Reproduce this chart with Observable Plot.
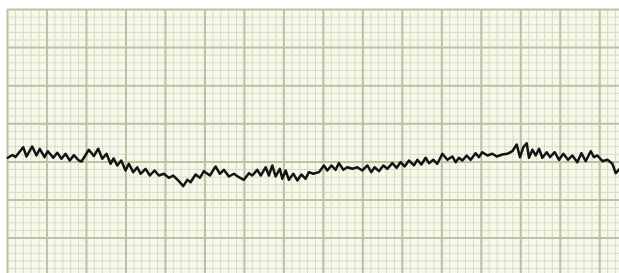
<!DOCTYPE html>
<html>
<head>
<meta charset="utf-8">
<script src="https://cdn.jsdelivr.net/npm/d3@7"></script>
<script src="https://cdn.jsdelivr.net/npm/@observablehq/plot@0.6"></script>
<style>
  html, body { margin: 0; padding: 0; background: #ffffff; }
  svg { display: block; }
</style>
</head>
<body>
<div id="chart"></div>
<script>
// Time along the strip, in small (1 mm) boxes
const timeMm = [0.04,0.63,1.01,1.99,2.41,3.13,3.67,4.09,4.69,5.11,5.79,6.30,6.84,7.35,7.89,8.40,9.03,9.37,10.30,10.93,
  11.49,12.00,12.54,13.05,13.43,13.90,14.40,14.95,15.37,15.92,16.43,16.85,17.48,18.03,18.62,19.17,19.80,20.43,20.99,21.70,
  22.26,22.76,23.18,23.82,24.36,24.87,25.63,26.35,26.89,27.40,28.03,28.67,29.30,29.93,30.57,31.00,31.63,32.07,32.70,33.10,
  33.53,33.95,34.49,34.80,35.22,35.63,36.19,36.70,37.21,37.75,38.17,38.73,39.44,40.07,40.50,41.01,41.55,41.97,42.53,43.03,
  43.67,44.30,44.93,45.57,46.07,46.49,47.04,47.59,48.10,48.73,49.28,49.78,50.29,50.84,51.47,51.90,52.41,52.95,53.37,53.93,
  54.43,55.07,55.70,56.33,56.75,57.17,57.60,58.15,58.65,59.28,59.70,60.13,60.77,61.40,61.95,62.67,63.30,63.93,64.48,64.90,
  65.33,65.75,66.04,66.47,66.89,67.31,67.73,68.28,68.70,69.29,69.84,70.39,70.98,71.53,72.16,72.67,73.22,73.85,74.27,74.70,
  75.34,75.97,76.60,77.02,77.53];
// Trace amplitude, in small boxes above the lower edge of the strip
const amplitudeMm = [15.54,15.90,15.64,16.93,15.71,17.02,15.84,16.72,15.62,16.40,15.54,16.19,15.41,16.06,15.18,15.88,15.18,15.05,16.59,15.77,
  16.72,15.41,16.06,14.75,15.45,14.53,15.18,13.87,14.75,13.65,14.30,13.44,14.09,13.21,13.87,13.21,13.44,12.91,13.21,12.47,
  11.81,12.65,12.33,13.35,12.91,13.78,13.21,14.40,13.44,13.96,13.08,13.44,12.99,12.65,13.52,13.21,13.96,13.21,14.30,13.21,
  14.53,13.08,14.09,12.78,13.87,12.65,13.44,12.56,13.35,12.78,13.65,13.44,13.65,14.53,13.87,14.53,13.96,14.83,13.96,14.30,
  14.09,14.30,13.87,14.53,13.65,14.30,13.78,14.53,14.09,14.83,14.22,14.96,14.40,15.18,14.53,15.27,14.66,15.54,14.83,15.27,
  14.75,16.06,15.27,15.71,14.96,15.54,15.18,15.84,15.27,16.14,15.62,16.27,15.84,16.06,15.71,15.97,16.06,16.40,17.28,15.62,
  16.93,17.45,15.54,16.59,15.84,16.72,15.54,16.27,15.62,16.27,15.27,16.06,15.27,15.84,14.96,16.14,15.09,16.40,15.62,15.84,
  15.09,15.27,14.75,13.52,14.09];

// Grid lines of the ECG paper (mm)
const minorX = d3.range(0, 78, 1);
const majorX = d3.range(0, 78, 5);
const minorY = d3.range(1, 36, 1);
const majorY = d3.range(5, 36, 5);

const trace = timeMm.map((t, i) => ({t, v: amplitudeMm[i]}));

const xDomain = [0, 77.5];
const yDomain = [0.35, 35];

const chart = Plot.plot({
  width: 619,
  height: 273,
  marginLeft: 7,
  marginRight: 0,
  marginTop: 9,
  marginBottom: 0,
  x: {domain: xDomain, axis: null},
  y: {domain: yDomain, axis: null},
  marks: [
    Plot.frame({fill: "#f6f8ea", stroke: null}),
    Plot.ruleX(minorX, {y1: yDomain[0], y2: yDomain[1], stroke: "#d8dbc4", strokeWidth: 1}),
    Plot.ruleY(minorY, {x1: xDomain[0], x2: xDomain[1], stroke: "#d8dbc4", strokeWidth: 1}),
    Plot.ruleX(majorX, {y1: yDomain[0], y2: yDomain[1], stroke: "#bec2a2", strokeWidth: 2}),
    Plot.ruleY(majorY, {x1: xDomain[0], x2: xDomain[1], stroke: "#bec2a2", strokeWidth: 2}),
    Plot.line(trace, {x: "t", y: "v", stroke: "#141414", strokeWidth: 2.5, strokeLinejoin: "round", curve: "linear"})
  ]
});
document.getElementById("chart").appendChild(chart);
</script>
</body>
</html>
